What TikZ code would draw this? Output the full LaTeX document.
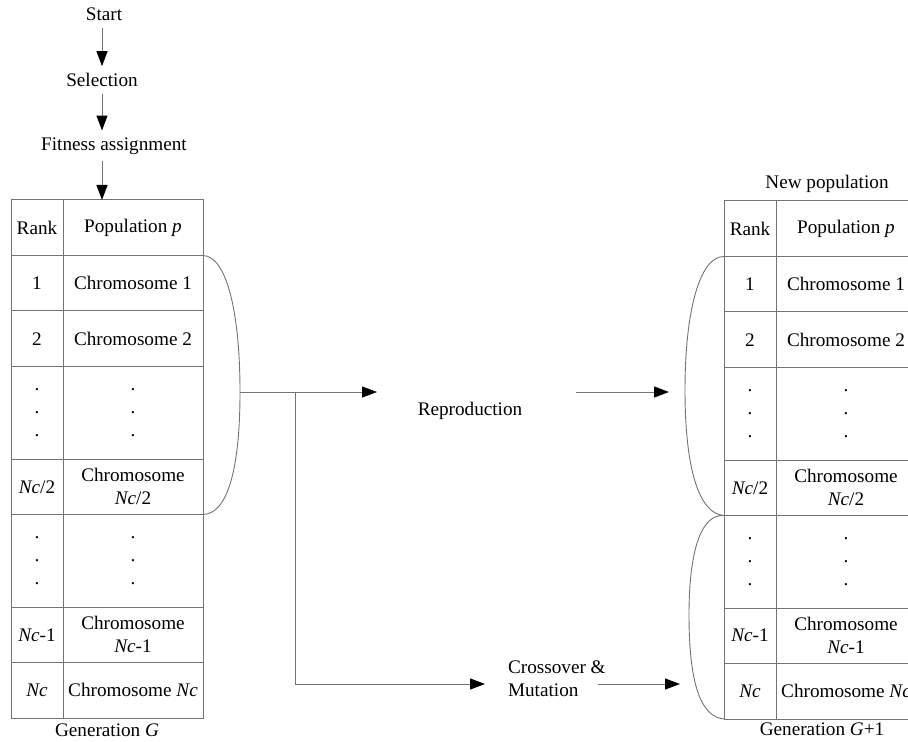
\documentclass[tikz,border=0pt]{standalone}
\usepackage{fontspec}
\setmainfont{Liberation Serif}
\usetikzlibrary{positioning,arrows.meta,calc}
\definecolor{linegray}{gray}{0.45}

\begin{document}
\begin{tikzpicture}[
    x=0.5pt,
    y=-0.5pt,
    >={Triangle[length=7.5pt,width=5.5pt,color=black]},
    font=\fontsize{9.6}{11.5}\selectfont,
    every node/.style={align=center},
    cell/.style={draw=linegray, line width=0.5pt, rectangle, inner sep=0pt, outer sep=0pt, minimum height=27.75pt},
    rankcell/.style={cell, minimum width=26pt},
    popcell/.style={cell, minimum width=70pt},
    tall/.style={minimum height=46.25pt},
    flow/.style={->, draw=linegray, line width=0.5pt},
    brace/.style={draw=linegray, line width=0.45pt}
]

\useasboundingbox (0,0) rectangle (908,742);
\clip (0,0) rectangle (908,742);

% Steps
\node (start) at (104,14) {Start};
\node (sel) at (102,80) {Selection};
\node (fit) at (114,146) {Fitness assignment};

% Generation G
\node[rankcell, anchor=north west] (rankA0) at (11,200) {Rank};
\node[popcell, right=0pt of rankA0] (popA0) {Population \textit{p}};
\node[rankcell, below=0pt of rankA0] (rankA1) {1};
\node[popcell, right=0pt of rankA1] (popA1) {Chromosome 1};
\node[rankcell, below=0pt of rankA1] (rankA2) {2};
\node[popcell, right=0pt of rankA2] (popA2) {Chromosome 2};
\node[rankcell, tall, below=0pt of rankA2] (rankA3) {.\\.\\.};
\node[popcell, tall, right=0pt of rankA3] (popA3) {.\\.\\.};
\node[rankcell, below=0pt of rankA3] (rankA4) {\textit{Nc}/2};
\node[popcell, right=0pt of rankA4] (popA4) {Chromosome\\\textit{Nc}/2};
\node[rankcell, tall, below=0pt of rankA4] (rankA5) {.\\.\\.};
\node[popcell, tall, right=0pt of rankA5] (popA5) {.\\.\\.};
\node[rankcell, below=0pt of rankA5] (rankA6) {\textit{Nc}-1};
\node[popcell, right=0pt of rankA6] (popA6) {Chromosome\\\textit{Nc}-1};
\node[rankcell, below=0pt of rankA6] (rankA7) {\textit{Nc}};
\node[popcell, right=0pt of rankA7] (popA7) {Chromosome \textit{Nc}};
\node (genA) at (107,730) {Generation \textit{G}};

% Generation G+1
\node (newpop) at (827,184) {New population};
\node[rankcell, anchor=north west] (rankB0) at (724,201) {Rank};
\node[popcell, right=0pt of rankB0] (popB0) {Population \textit{p}};
\node[rankcell, below=0pt of rankB0] (rankB1) {1};
\node[popcell, right=0pt of rankB1] (popB1) {Chromosome 1};
\node[rankcell, below=0pt of rankB1] (rankB2) {2};
\node[popcell, right=0pt of rankB2] (popB2) {Chromosome 2};
\node[rankcell, tall, below=0pt of rankB2] (rankB3) {.\\.\\.};
\node[popcell, tall, right=0pt of rankB3] (popB3) {.\\.\\.};
\node[rankcell, below=0pt of rankB3] (rankB4) {\textit{Nc}/2};
\node[popcell, right=0pt of rankB4] (popB4) {Chromosome\\\textit{Nc}/2};
\node[rankcell, tall, below=0pt of rankB4] (rankB5) {.\\.\\.};
\node[popcell, tall, right=0pt of rankB5] (popB5) {.\\.\\.};
\node[rankcell, below=0pt of rankB5] (rankB6) {\textit{Nc}-1};
\node[popcell, right=0pt of rankB6] (popB6) {Chromosome\\\textit{Nc}-1};
\node[rankcell, below=0pt of rankB6] (rankB7) {\textit{Nc}};
\node[popcell, right=0pt of rankB7] (popB7) {Chromosome \textit{Nc}};
\node (genB) at (822,729) {Generation \textit{G}+1};

% Operators
\node (repro) at (470,411) {Reproduction};
\node[align=left, anchor=west] (cross) at (501,679) {Crossover \&\\Mutation};

% Braces
\coordinate (tipA) at (240,392);
\coordinate (tipB) at (685,390);
\coordinate (tipC) at (689,615);
\draw[brace] (popA1.north east) .. controls (226,256) and (240,310) .. (tipA)
    .. controls (240,474) and (226,514) .. (popA4.south east);
\draw[brace] (rankB1.north west) .. controls (700,256) and (685,310) .. (tipB)
    .. controls (685,472) and (700,514) .. (rankB4.south west);
\draw[brace] (rankB4.south west) .. controls (703,514) and (689,545) .. (tipC)
    .. controls (689,690) and (703,717) .. (rankB7.south west);

% Flow
\draw[flow] (start.south -| sel) -- (sel.north);
\draw[flow] (sel.south) -- (sel.south |- fit.north);
\draw[flow] (sel.south |- fit.south) -- (sel.south |- popA0.north);

\coordinate (split) at (295,392);
\coordinate (reproIn) at (377,392);
\coordinate (reproOut) at (576,392);
\coordinate (reproEnd) at (669,392);
\coordinate (crossIn) at (485,684);
\coordinate (crossOut) at (598,684);
\coordinate (crossEnd) at (680,684);

\draw[flow] (tipA) -- (reproIn);
\draw[flow] (reproOut) -- (reproEnd);
\draw[flow] (split) |- (crossIn);
\draw[flow] (crossOut) -- (crossEnd);

\end{tikzpicture}
\end{document}
